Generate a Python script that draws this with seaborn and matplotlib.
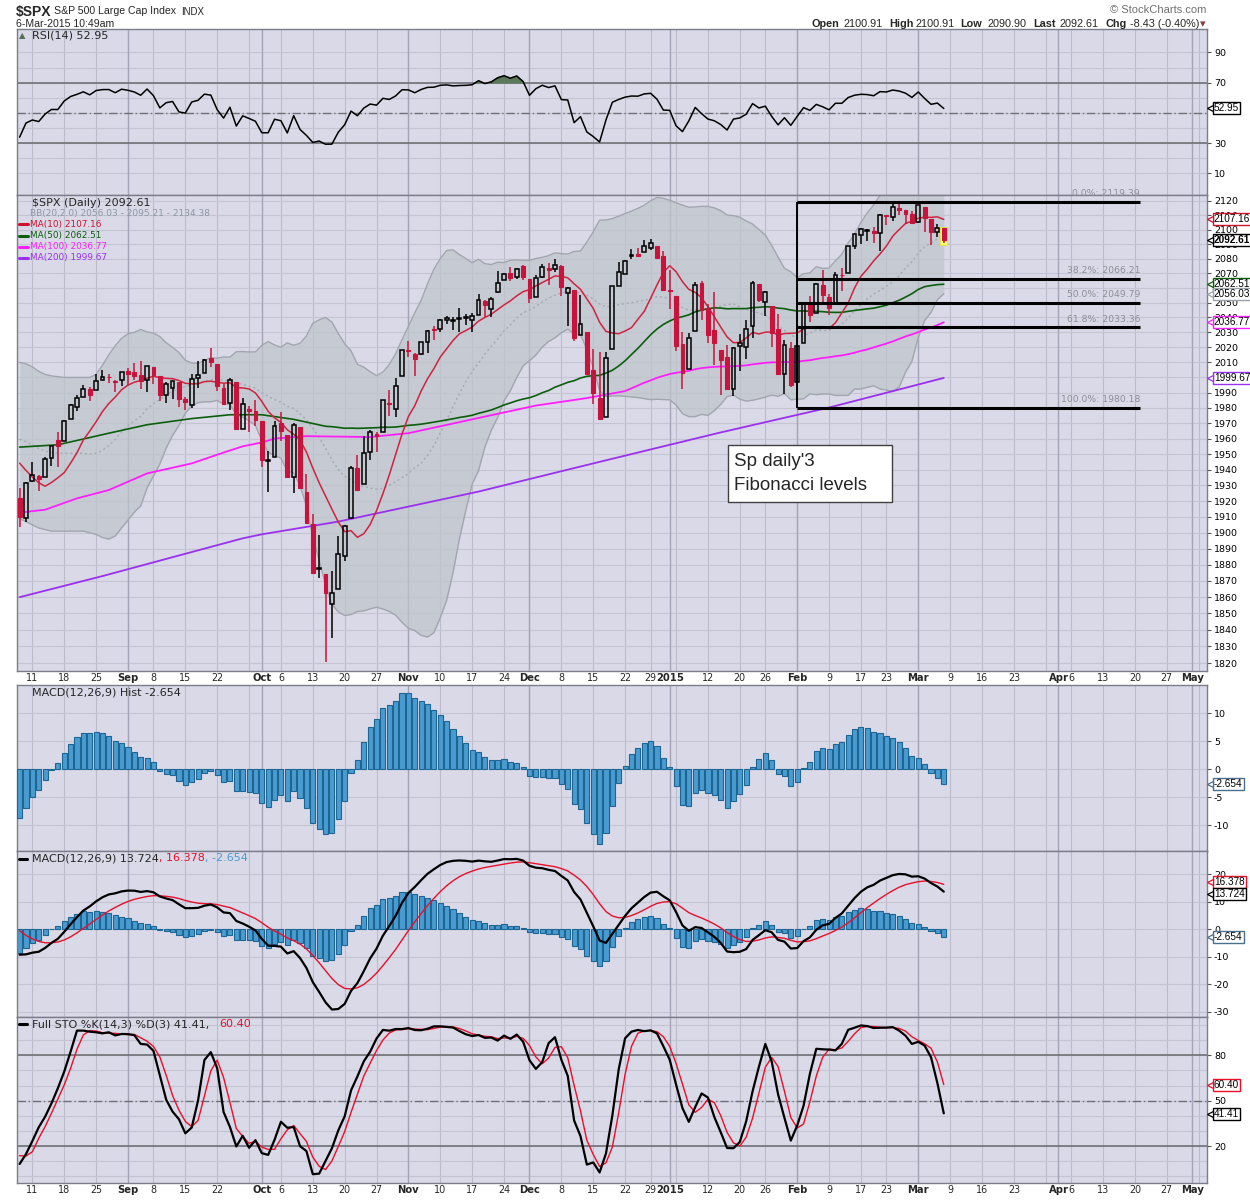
import numpy as np
import pandas as pd
import matplotlib
matplotlib.use('Agg')
import matplotlib.pyplot as plt
from matplotlib.patches import Rectangle
from matplotlib.lines import Line2D
from matplotlib.ticker import FixedLocator, NullLocator
import seaborn as sns

sns.set_theme(style='white')
plt.rcParams['font.family'] = ['DejaVu Sans']

# ---------------- data ----------------
holidays = ['2014-09-01', '2014-11-27', '2014-12-25', '2015-01-01',
            '2015-01-19', '2015-02-16', '2015-04-03']

opens = [1922, 1909.5, 1933, 1935.7, 1935.6, 1947.4, 1958.9, 1958.4, 1972.7, 1980.5,
         1986.8, 1992.6, 1991.7, 1998.6, 2000.5, 1997.4, 1998.5, 2004.1, 2003.6, 2001.7,
         1998, 2007.2, 2000.7, 1988.4, 1992.85, 1996.7, 1986, 1981.9, 1999.3, 2003.1,
         2012.7, 2009.1, 1992.8, 1983.3, 1997.3, 1966.2, 1978.96, 1978.2, 1971.4, 1945.8,
         1948, 1970, 1962.4, 1935.6, 1967.7, 1925.6, 1905.65, 1877.1, 1874.2, 1855.95,
         1864.9, 1885.6, 1909.4, 1941.3, 1931, 1951.6, 1962.97, 1964.1, 1983.3, 1979.5,
         2001.2, 2018.2, 2015.8, 2015.3, 2023.3, 2032.4, 2032, 2038.2, 2037.75, 2039.2,
         2039.7, 2038.3, 2041.5, 2051.2, 2045.6, 2057.5, 2065.1, 2070.15, 2067.4, 2074.8,
         2065.8, 2053.8, 2067.5, 2073.6, 2072.8, 2074.8, 2056.55, 2058.9, 2027.9, 2030.4,
         2005, 1986.7, 1973.8, 2018.98, 2061, 2069.3, 2081.5, 2083.25, 2084.3, 2087.6,
         2088.5, 2082.1, 2058.9, 2054.4, 2022.15, 2005.55, 2030.6, 2063.45, 2046.1, 2031.6,
         2018.4, 2013.75, 1992.25, 2020.8, 2020.2, 2034.3, 2062.98, 2050.4, 2047.9, 2032.3,
         2002.45, 2019.35, 1996.7, 2022.7, 2048.9, 2043.1, 2062.3, 2053.5, 2049.4, 2068.55,
         2069.98, 2088.8, 2096.5, 2099.2, 2099.25, 2097.65, 2109.8, 2109.1, 2115.3, 2113.9,
         2110.9, 2105.2, 2115.8, 2107.7, 2098.5, 2100.91]
highs = [1928, 1932, 1944.9, 1936.3, 1948.4, 1955.2, 1964, 1971.99, 1982.6, 1988.6,
         1994.8, 1993.5, 2001.95, 2005.04, 2002.1, 1998.5, 2003.4, 2006.1, 2009.3, 2011.2,
         2007.7, 2007.2, 2001, 1996.7, 1997.65, 1996.7, 1987.2, 2002.3, 2010.7, 2012.3,
         2019.3, 2009.1, 1995.4, 1999.8, 1997.3, 1986.4, 1981.3, 1985.2, 1971.4, 1952.3,
         1971.2, 1977.4, 1962.4, 1970.4, 1967.7, 1936.98, 1912.1, 1898.7, 1874.2, 1876,
         1898.2, 1905, 1942.45, 1949.3, 1961.95, 1965.3, 1964.6, 1985.05, 1991.4, 1999.4,
         2018.2, 2024.5, 2015.98, 2023.8, 2031.6, 2034.3, 2038.7, 2041.3, 2040.3, 2046.2,
         2042.2, 2043.1, 2056.1, 2052.1, 2053.8, 2071.5, 2070.2, 2074.2, 2073.3, 2075.76,
         2065.8, 2068.8, 2076.3, 2077.3, 2079.5, 2075.8, 2060.6, 2058.9, 2055.5, 2030.4,
         2018.7, 2016.9, 2016.75, 2061.2, 2077.85, 2078.8, 2086.7, 2087.6, 2092.7, 2093.55,
         2088.5, 2085.6, 2072.4, 2054.4, 2030.25, 2029.6, 2064.1, 2064.4, 2049.3, 2056.9,
         2018.4, 2021.35, 2020.5, 2028.9, 2038.3, 2064.6, 2062.98, 2057.6, 2047.9, 2042.5,
         2024.6, 2023.3, 2021.7, 2050.3, 2054.7, 2063.55, 2072.4, 2056.2, 2070.9, 2073.5,
         2088.5, 2097, 2101.3, 2100.2, 2102.1, 2110.6, 2110.05, 2117.9, 2119.39, 2113.9,
         2112.7, 2117.5, 2115.8, 2107.7, 2104.25, 2100.91]
lows = [1903.5, 1906.5, 1932.4, 1926.5, 1935.6, 1942.6, 1941.5, 1958.4, 1972.7, 1977.7,
        1986.8, 1984.8, 1991.7, 1998.6, 1996.2, 1990.5, 1994.6, 1994.85, 1998.1, 1992.5,
        1990.1, 1995.6, 1984.6, 1982.99, 1985.9, 1980.3, 1978.5, 1979.8, 1993.3, 2003.1,
        2006.6, 1991, 1982.3, 1978.6, 1965.99, 1966.2, 1964, 1968, 1941.7, 1926,
        1948, 1958.4, 1935.1, 1925.25, 1927.6, 1906, 1874.1, 1871.8, 1820.7, 1835,
        1864.9, 1882.3, 1909.4, 1926.8, 1931, 1946.3, 1951.4, 1964.1, 1974.9, 1974.2,
        2001.2, 2013.7, 2001, 2014.7, 2015.9, 2025.1, 2030.2, 2035.3, 2031.3, 2030.4,
        2035.2, 2030.2, 2041.5, 2040.4, 2040.5, 2056.8, 2065.1, 2064.75, 2066.4, 2065.1,
        2049.6, 2053.8, 2066.6, 2062.3, 2070.8, 2054.3, 2034.2, 2024.3, 2027.9, 2002.3,
        1982.3, 1972.6, 1973.8, 2018.98, 2061, 2069.3, 2079.8, 2081.9, 2084.3, 2085.75,
        2079.5, 2057.9, 2046, 2017.3, 1992.4, 2005.55, 2030.6, 2038.3, 2022.6, 2008.3,
        1988.4, 1991.5, 1988.1, 2004.5, 2012, 2026.4, 2050.5, 2040.97, 2019.9, 2001.5,
        1989.2, 1993.4, 1980.18, 2022.7, 2036.7, 2043.1, 2049.97, 2041.9, 2048.6, 2057.99,
        2069.98, 2086.7, 2089.8, 2092.15, 2090.8, 2085.4, 2103, 2105.9, 2109.9, 2103.8,
        2103.8, 2104.5, 2098.3, 2089.2, 2095.2, 2090.9]
closes = [1909.6, 1931.6, 1936.9, 1933.75, 1946.7, 1955.2, 1955.1, 1971.7, 1981.6, 1986.5,
          1992.4, 1988.4, 1997.9, 2000.0, 2000.1, 1996.7, 2003.4, 2002.3, 2000.7, 1997.65,
          2007.7, 2001.5, 1988.4, 1995.7, 1997.45, 1985.5, 1984.1, 1999, 2001.6, 2011.4,
          2010.4, 1994.3, 1982.8, 1998.3, 1966, 1982.85, 1977.8, 1972.3, 1946.2, 1946.2,
          1967.9, 1964.8, 1935.1, 1968.9, 1928.2, 1906.1, 1874.7, 1877.7, 1862.5, 1862.8,
          1886.8, 1904, 1941.3, 1927.1, 1950.8, 1964.6, 1961.6, 1985.05, 1982.3, 1994.65,
          2018.05, 2017.8, 2012.1, 2023.6, 2031.2, 2031.9, 2038.3, 2039.7, 2038.25, 2039.3,
          2039.8, 2041.3, 2051.8, 2048.7, 2052.75, 2063.5, 2069.4, 2067, 2072.8, 2067.6,
          2053.4, 2066.6, 2074.3, 2071.9, 2075.4, 2060.3, 2059.8, 2026.1, 2035.3, 2002.3,
          1989.6, 1972.7, 2012.9, 2061.2, 2070.65, 2078.5, 2082.2, 2081.9, 2088.8, 2090.6,
          2080.35, 2058.9, 2058.2, 2020.6, 2002.6, 2025.9, 2062.1, 2044.8, 2028.3, 2023,
          2011.3, 1992.7, 2019.4, 2022.55, 2032.1, 2063.15, 2051.8, 2057.1, 2029.55, 2002.2,
          2021.25, 1995, 2020.85, 2050, 2041.5, 2062.5, 2055.5, 2046.7, 2068.6, 2068.5,
          2088.5, 2097, 2100.3, 2099.7, 2097.45, 2110.3, 2109.7, 2115.5, 2113.9, 2110.7,
          2104.5, 2117.4, 2107.8, 2098.5, 2101, 2092.61]

# overlay warm-up values read at the left edge of the chart
ma10_early = [1944.2, 1939.5, 1935.3, 1931.7, 1929.4, 1931.8, 1934.8, 1938.1, 1944.2]
bb_upper_early = [2010, 2009, 2007, 2004, 2002, 2001, 2000.5, 2000, 2000, 2000,
                  2000, 2000, 2002, 2008, 2015, 2021, 2026, 2029, 2030]
bb_lower_early = [1909, 1907, 1905, 1903, 1902, 1901, 1901, 1901, 1901, 1901,
                  1901, 1900, 1899, 1897, 1896, 1898, 1903, 1908, 1913]
ma50_early_idx = [0, 6, 14, 20, 27, 33, 38, 43, 48]
ma50_early_val = [1954.5, 1956, 1963.5, 1969, 1973, 1975.5, 1975.5, 1972.5, 1968]
ma100_early_idx = [0, 4, 9, 14, 20, 27, 32, 35, 38, 40, 45, 55, 61, 72, 81, 89, 95, 98]
ma100_early_val = [1912.7, 1914.5, 1921.7, 1927, 1937.6, 1944, 1951, 1955, 1957.5, 1960,
                   1961.6, 1961, 1963.5, 1973.4, 1981.5, 1986.4, 1991, 1996.5]
ma200_idx = [0, 13, 28, 35, 38, 50, 72, 85, 91, 97, 107, 110, 127, 145]
ma200_val = [1860, 1873, 1889, 1896.5, 1899, 1907, 1926, 1939, 1945, 1951, 1961, 1964,
             1980.2, 1999.67]
# indicator starting state read at the left edge
rsi_seed = (3.5, 6.8)               # avg gain, avg loss on first bar
macd_seed = (1944.0, 1951.0, 1.7)    # ema12, ema26, signal before first bar
stoK_early = [8.1, 14.7, 23.3, 32.4, 39.4, 48.2, 58.2, 69.2, 82.4, 96.3, 96.3, 95.6,
              95.2, 94.5, 95.2]
stoD_early = [13.6, 13.4, 16.2, 25.1, 32.8, 41.7, 51, 60.4, 71.4, 84, 93.4, 96.3, 96,
              94.9, 94.5, 94.5, 94]

fib_labels = ['0.0%: 2119.39', '38.2%: 2066.21', '50.0%: 2049.79', '61.8%: 2033.36',
              '100.0%: 1980.18']
fib_levels = [2119.39, 2066.21, 2049.79, 2033.36, 1980.18]

tick_dates = ['2014-08-11', '2014-08-18', '2014-08-25', '2014-09-02', '2014-09-08',
              '2014-09-15', '2014-09-22', '2014-10-01', '2014-10-06', '2014-10-13',
              '2014-10-20', '2014-10-27', '2014-11-03', '2014-11-10', '2014-11-17',
              '2014-11-24', '2014-12-01', '2014-12-08', '2014-12-15', '2014-12-22',
              '2014-12-29', '2015-01-02', '2015-01-12', '2015-01-20', '2015-01-26',
              '2015-02-02', '2015-02-09', '2015-02-17', '2015-02-23', '2015-03-02',
              '2015-03-09', '2015-03-16', '2015-03-23', '2015-04-01', '2015-04-06',
              '2015-04-13', '2015-04-20', '2015-04-27', '2015-05-01']
tick_labels = ['11', '18', '25', 'Sep', '8', '15', '22', 'Oct', '6', '13', '20', '27',
               'Nov', '10', '17', '24', 'Dec', '8', '15', '22', '29', '2015', '12', '20',
               '26', 'Feb', '9', '17', '23', 'Mar', '9', '16', '23', 'Apr', '6', '13',
               '20', '27', 'May']
# price-axis labels that the value boxes leave visible
price_tick_vals = [1820, 1830, 1840, 1850, 1860, 1870, 1880, 1890, 1900, 1910, 1920,
                   1930, 1940, 1950, 1960, 1970, 1980, 1990, 2010, 2020, 2030, 2040,
                   2050, 2070, 2080, 2090, 2100, 2110, 2120]

# ---------------- derived ----------------
W, H = 1250, 1200
BG = '#D9D9E8'
HGRID = '#C4C4D3'
VGRID = '#BBBBCC'
MGRID = '#A4A4B6'
RED = '#C8143C'
XL = (-0.41, 186.3)
LS = 'Liberation Sans'

days = pd.bdate_range('2014-08-07', '2015-05-08')
days = days[~days.isin(pd.to_datetime(holidays))]
pos = {d: i for i, d in enumerate(days)}
week_starts, month_starts = [], []
for i in range(1, len(days)):
    if days[i].isocalendar()[1] != days[i - 1].isocalendar()[1]:
        week_starts.append(i)
    if days[i].month != days[i - 1].month:
        month_starts.append(i)
tick_pos = [pos[pd.Timestamp(d)] for d in tick_dates]
month_names = {'Sep', 'Oct', 'Nov', 'Dec', '2015', 'Feb', 'Mar', 'Apr', 'May'}

o, h, l, c = (np.array(a, float) for a in (opens, highs, lows, closes))
n = len(c)
x = np.arange(n)
cs = pd.Series(c)

ma10 = cs.rolling(10).mean().to_numpy()
ma10[:9] = ma10_early
bb_mid = cs.rolling(20).mean().to_numpy()
bb_sd = cs.rolling(20).std(ddof=0).to_numpy()
bb_up = bb_mid + 2 * bb_sd
bb_lo = bb_mid - 2 * bb_sd
bb_up[:19] = bb_upper_early
bb_lo[:19] = bb_lower_early
bb_mid[:19] = (np.array(bb_upper_early) + np.array(bb_lower_early)) / 2
ma50c = cs.rolling(50).mean().to_numpy()
ma50_x = ma50_early_idx + list(range(49, n))
ma50_y = ma50_early_val + list(ma50c[49:])
ma100c = cs.rolling(100).mean().to_numpy()
ma100_x = ma100_early_idx + list(range(99, n))
ma100_y = ma100_early_val + list(ma100c[99:])

rsi = np.empty(n)
ag, al = rsi_seed
rsi[0] = 100 - 100 / (1 + ag / al)
for t in range(1, n):
    d = c[t] - c[t - 1]
    ag = (ag * 13 + max(d, 0)) / 14
    al = (al * 13 + max(-d, 0)) / 14
    rsi[t] = 100 - 100 / (1 + ag / al)

e12, e26, sg = macd_seed
macd = np.empty(n); sig = np.empty(n)
for t in range(n):
    e12 += (c[t] - e12) * 2 / 13
    e26 += (c[t] - e26) * 2 / 27
    m = e12 - e26
    sg += (m - sg) * 0.2
    macd[t] = m; sig[t] = sg
hist = macd - sig

hh = pd.Series(h).rolling(14).max()
ll = pd.Series(l).rolling(14).min()
fast = (cs - ll) / (hh - ll) * 100
stoK = fast.rolling(3).mean().to_numpy()
stoD = pd.Series(stoK).rolling(3).mean().to_numpy()
stoK[:15] = stoK_early
stoD[:17] = stoD_early

# ---------------- figure ----------------
fig = plt.figure(figsize=(12.5, 12), dpi=100)
fig.patch.set_facecolor('white')


def add_ax(top, bottom):
    return fig.add_axes([17 / W, 1 - bottom / H, 1190 / W, (bottom - top) / H])


def base(ax, ylim, grid_levels, ticks, labels, log=False):
    ax.set_facecolor(BG)
    if log:
        ax.set_yscale('log')
    ax.set_xlim(*XL)
    ax.set_ylim(*ylim)
    for s in ax.spines.values():
        s.set_color('#7C7C8A')
        s.set_linewidth(1.0)
    for i in week_starts:
        ax.axvline(i, color=VGRID, lw=0.8, zorder=0.5)
    for i in month_starts:
        ax.axvline(i, color=MGRID, lw=1.0, zorder=0.6)
    for g in grid_levels:
        ax.axhline(g, color=HGRID, lw=0.8, zorder=0.5)
    ax.yaxis.tick_right()
    ax.yaxis.set_major_locator(FixedLocator(ticks))
    ax.yaxis.set_minor_locator(NullLocator())
    ax.set_yticklabels(labels)
    ax.tick_params(axis='y', length=3, width=0.8, color='#555555', pad=2,
                   labelsize=6.8, labelcolor='black', right=True, left=False)
    ax.set_xticks([])
    ax.grid(False)


def xlabels(ax):
    ax.set_xticks(tick_pos)
    ax.set_xticklabels(tick_labels)
    ax.tick_params(axis='x', length=0, pad=1.5, labelsize=6.9, bottom=True)
    for t in ax.get_xticklabels():
        if t.get_text() in month_names:
            t.set_fontweight('bold')
            t.set_fontsize(7.2)


def vbox(ax, y, txt, ec, bold=False, fs=7.2):
    ax.text(1.0058, y, txt, transform=ax.get_yaxis_transform(), ha='left', va='center',
            fontsize=fs, fontweight='bold' if bold else 'normal', color='black',
            family=LS, zorder=30, clip_on=False,
            bbox=dict(boxstyle='square,pad=0.1', fc='white', ec=ec, lw=1))
    ax.plot([1.0022], [y], marker='<', ms=4, mfc='white', mec=ec, mew=0.9,
            transform=ax.get_yaxis_transform(), clip_on=False, zorder=31)


def ftext(px, py, s, **kw):
    kw.setdefault('fontsize', 8)
    kw.setdefault('va', 'center')
    fig.text(px / W, 1 - py / H, s, **kw)


def fdash(px0, px1, py, color):
    fig.add_artist(Line2D([px0 / W, px1 / W], [1 - py / H] * 2, color=color, lw=2.2))


# ---- RSI panel ----
ax_r = add_ax(29, 195)
base(ax_r, (-4.3, 105.5), range(10, 100, 10), [10, 30, 70, 90],
     ['10', '30', '70', '90'])
ax_r.axhline(70, color='#707078', lw=1.2, zorder=1)
ax_r.axhline(30, color='#707078', lw=1.2, zorder=1)
ax_r.axhline(50, color='#707078', lw=1.0, ls=(0, (6, 2, 1, 2)), zorder=1)
ax_r.fill_between(x, 70, rsi, where=rsi > 70, interpolate=True, color='#5A7A5A', zorder=2)
sns.lineplot(x=x, y=rsi, ax=ax_r, color='black', lw=1.1, estimator=None, sort=False, zorder=3)
ax_r.set_xlabel(''); ax_r.set_ylabel('')
vbox(ax_r, 52.95, '52.95', 'black')

# ---- Price panel ----
ax_p = add_ax(195, 671)
plev = list(range(1820, 2121, 10))
base(ax_p, (1815.2, 2124.2), plev, price_tick_vals, [str(v) for v in price_tick_vals], log=True)
ax_p.fill_between(x, bb_lo, bb_up, color='#BEC5CB', alpha=0.72, lw=0, zorder=1)
ax_p.plot(x, bb_up, color='#A2A6AE', lw=1.0, zorder=1.2)
ax_p.plot(x, bb_lo, color='#A2A6AE', lw=1.0, zorder=1.2)
ax_p.plot(x, bb_mid, color='#A6AAB2', lw=1.0, ls=(0, (1.5, 2)), zorder=1.2)
sns.lineplot(x=ma200_idx, y=ma200_val, ax=ax_p, color='#9B30F0', lw=1.3,
             estimator=None, sort=False, zorder=2)
sns.lineplot(x=ma100_x, y=ma100_y, ax=ax_p, color='#FF1EFF', lw=1.3,
             estimator=None, sort=False, zorder=2)
sns.lineplot(x=ma50_x, y=ma50_y, ax=ax_p, color='#0B5E0B', lw=1.2,
             estimator=None, sort=False, zorder=2)
sns.lineplot(x=x, y=ma10, ax=ax_p, color='#D0233F', lw=1.1,
             estimator=None, sort=False, zorder=2)
ax_p.set_xlabel(''); ax_p.set_ylabel('')
# highlight of the last bar
ax_p.add_patch(Rectangle((n - 1 - 0.58, 2089.3), 1.16, 12.6, fc='#FFFF70', ec='#E0E050',
                         lw=0.8, zorder=3))
up = c >= o
top_b = np.maximum(o, c)
bot_b = np.minimum(o, c)
body = np.maximum(top_b - bot_b, 0.4)
wcol = np.where(up, 'black', RED)
ax_p.vlines(x, top_b, h, colors=wcol, lw=1.1, zorder=4)
ax_p.vlines(x, l, bot_b, colors=wcol, lw=1.1, zorder=4)
ax_p.bar(x[up], body[up], bottom=bot_b[up], width=0.6, facecolor='none',
         edgecolor='black', lw=1.1, zorder=5)
ax_p.bar(x[~up], body[~up], bottom=bot_b[~up], width=0.6, facecolor=RED,
         edgecolor=RED, lw=0.8, zorder=5)
# Fibonacci levels
fib_start = pos[pd.Timestamp('2015-02-02')]
fib_end = 175.8
ax_p.hlines(fib_levels, fib_start, fib_end, color='black', lw=2.2, zorder=6)
ax_p.vlines(fib_start, fib_levels[-1], fib_levels[0], color='black', lw=1.4, zorder=6)
for lv, lb in zip(fib_levels, fib_labels):
    ax_p.text(fib_end, lv * 1.0012, lb, ha='right', va='bottom', fontsize=6.7,
              color='#8E8E98', zorder=6)
xlabels(ax_p)
vbox(ax_p, 2107.16, '2107.16', '#D0102C')
vbox(ax_p, 2092.61, '2092.61', 'black', bold=True)
vbox(ax_p, 2062.51, '2062.51', '#0B5E0B')
vbox(ax_p, 2056.03, '2056.03', '#9AA2AA')
vbox(ax_p, 2036.77, '2036.77', '#FF1EFF')
vbox(ax_p, 1999.67, '1999.67', '#9B30F0')

# ---- MACD histogram panel ----
ax_h = add_ax(685, 851)
base(ax_h, (-14.6, 15.05), [-10, -5, 0, 5, 10], [-10, -5, 0, 5, 10],
     ['-10', '-5', '0', '5', '10'])
ax_h.bar(x, hist, width=0.8, color='#4A9BD0', edgecolor='#1D6592', lw=0.8, zorder=3)
vbox(ax_h, -2.654, '-2.654', '#4A6F8F')

# ---- MACD panel ----
ax_m = add_ax(851, 1017)
base(ax_m, (-31.9, 28.5), [-30, -20, -10, 0, 10, 20], [-30, -20, -10, 0, 10, 20],
     ['-30', '-20', '-10', '0', '10', '20'])
ax_m.bar(x, hist, width=0.8, color='#4A9BD0', edgecolor='#1D6592', lw=0.8, zorder=2)
sns.lineplot(x=x, y=sig, ax=ax_m, color='#E8102A', lw=1.0, estimator=None, sort=False, zorder=3)
sns.lineplot(x=x, y=macd, ax=ax_m, color='black', lw=1.6, estimator=None, sort=False, zorder=4)
ax_m.set_xlabel(''); ax_m.set_ylabel('')
vbox(ax_m, 17.2, '16.378', '#E8102A')
vbox(ax_m, 12.9, '13.724', 'black')
vbox(ax_m, -2.654, '-2.654', '#4A6F8F')

# ---- Stochastics panel ----
ax_s = add_ax(1017, 1183)
base(ax_s, (-4.45, 105.3), range(0, 101, 10), [20, 50, 80], ['20', '50', '80'])
ax_s.axhline(80, color='#707078', lw=1.2, zorder=1)
ax_s.axhline(20, color='#707078', lw=1.2, zorder=1)
ax_s.axhline(50, color='#707078', lw=1.0, ls=(0, (6, 2, 1, 2)), zorder=1)
sns.lineplot(x=x, y=stoD, ax=ax_s, color='#E8102A', lw=1.0, estimator=None, sort=False, zorder=3)
sns.lineplot(x=x, y=stoK, ax=ax_s, color='black', lw=1.6, estimator=None, sort=False, zorder=4)
ax_s.set_xlabel(''); ax_s.set_ylabel('')
xlabels(ax_s)
vbox(ax_s, 60.40, '60.40', '#E8102A')
vbox(ax_s, 41.41, '41.41', 'black')

# ---------------- texts ----------------
ftext(16, 12, r'\$SPX', fontsize=10, fontweight='bold', family=LS)
ftext(54, 11.5, 'S&P 500 Large Cap Index', fontsize=7.6, family=LS)
ftext(181, 12, 'INDX', fontsize=7, family=LS)
ftext(16, 24, '6-Mar-2015 10:49am', fontsize=7.6, family=LS)
ftext(1206, 10, '\u00a9 StockCharts.com', fontsize=8, family=LS, color='#707070', ha='right')
hdr = [(812, 'Open', True), (844, '2100.91', False), (889, 'High', True),
       (916, '2100.91', False), (960, 'Low', True), (988, '2090.90', False),
       (1033, 'Last', True), (1060, '2092.61', False), (1105, 'Chg', True),
       (1130, '-8.43 (-0.40%)', False)]
for px, s, b in hdr:
    ftext(px, 24, s, fontsize=7.8, family=LS, fontweight='bold' if b else 'normal')
ftext(1200, 24.5, '\u25BE', fontsize=8, color='#8B3A3A')

# panel legends
ftext(19, 36, '\u25B2', fontsize=6, color='#4F704F')
ftext(31.5, 36, 'RSI(14) 52.95', fontsize=8)
ftext(31.5, 202.5, r'\$SPX (Daily) 2092.61', fontsize=8)
ftext(29.5, 213.5, 'BB(20,2.0) 2056.03 - 2095.21 - 2134.38', fontsize=6.5, color='#8C98A2')
fdash(19, 28, 224.5, '#D0102C')
ftext(29.5, 224.5, 'MA(10) 2107.16', fontsize=6.4, color='#D0102C')
fdash(19, 28, 235.5, '#0B5E0B')
ftext(29.5, 235.5, 'MA(50) 2062.51', fontsize=6.4, color='#0B5E0B')
fdash(19, 28, 246.5, '#FF1EFF')
ftext(29.5, 246.5, 'MA(100) 2036.77', fontsize=6.4, color='#FF1EFF')
fdash(19, 28, 257.5, '#9B30F0')
ftext(29.5, 257.5, 'MA(200) 1999.67', fontsize=6.4, color='#9B30F0')
ftext(31.5, 692.5, 'MACD(12,26,9) Hist -2.654', fontsize=8)
fdash(19, 27, 858.5, 'black')
ftext(31.5, 858.5, 'MACD(12,26,9) 13.724', fontsize=8)
ftext(159.3, 858.5, ', 16.378', fontsize=8, color='#E8102A')
ftext(205, 858.5, ', -2.654', fontsize=8, color='#4A9BD0')
fdash(19, 27, 1024.3, 'black')
ftext(31.5, 1024.3, 'Full STO %K(14,3) %D(3) 41.41,', fontsize=8)
ftext(219, 1024.3, '60.40', fontsize=8, color='#E8102A')

# annotation box
fig.add_artist(Rectangle((728 / W, 1 - 502 / H), 164 / W, 57 / H, transform=fig.transFigure,
                         fc='white', ec='#404040', lw=1.0, zorder=10))
ftext(734, 461, "Sp daily'3", fontsize=13.5, family=LS, zorder=11)
ftext(734, 486, 'Fibonacci levels', fontsize=13.5, family=LS, zorder=11)

fig.savefig('out.png', dpi=100, facecolor='white')
